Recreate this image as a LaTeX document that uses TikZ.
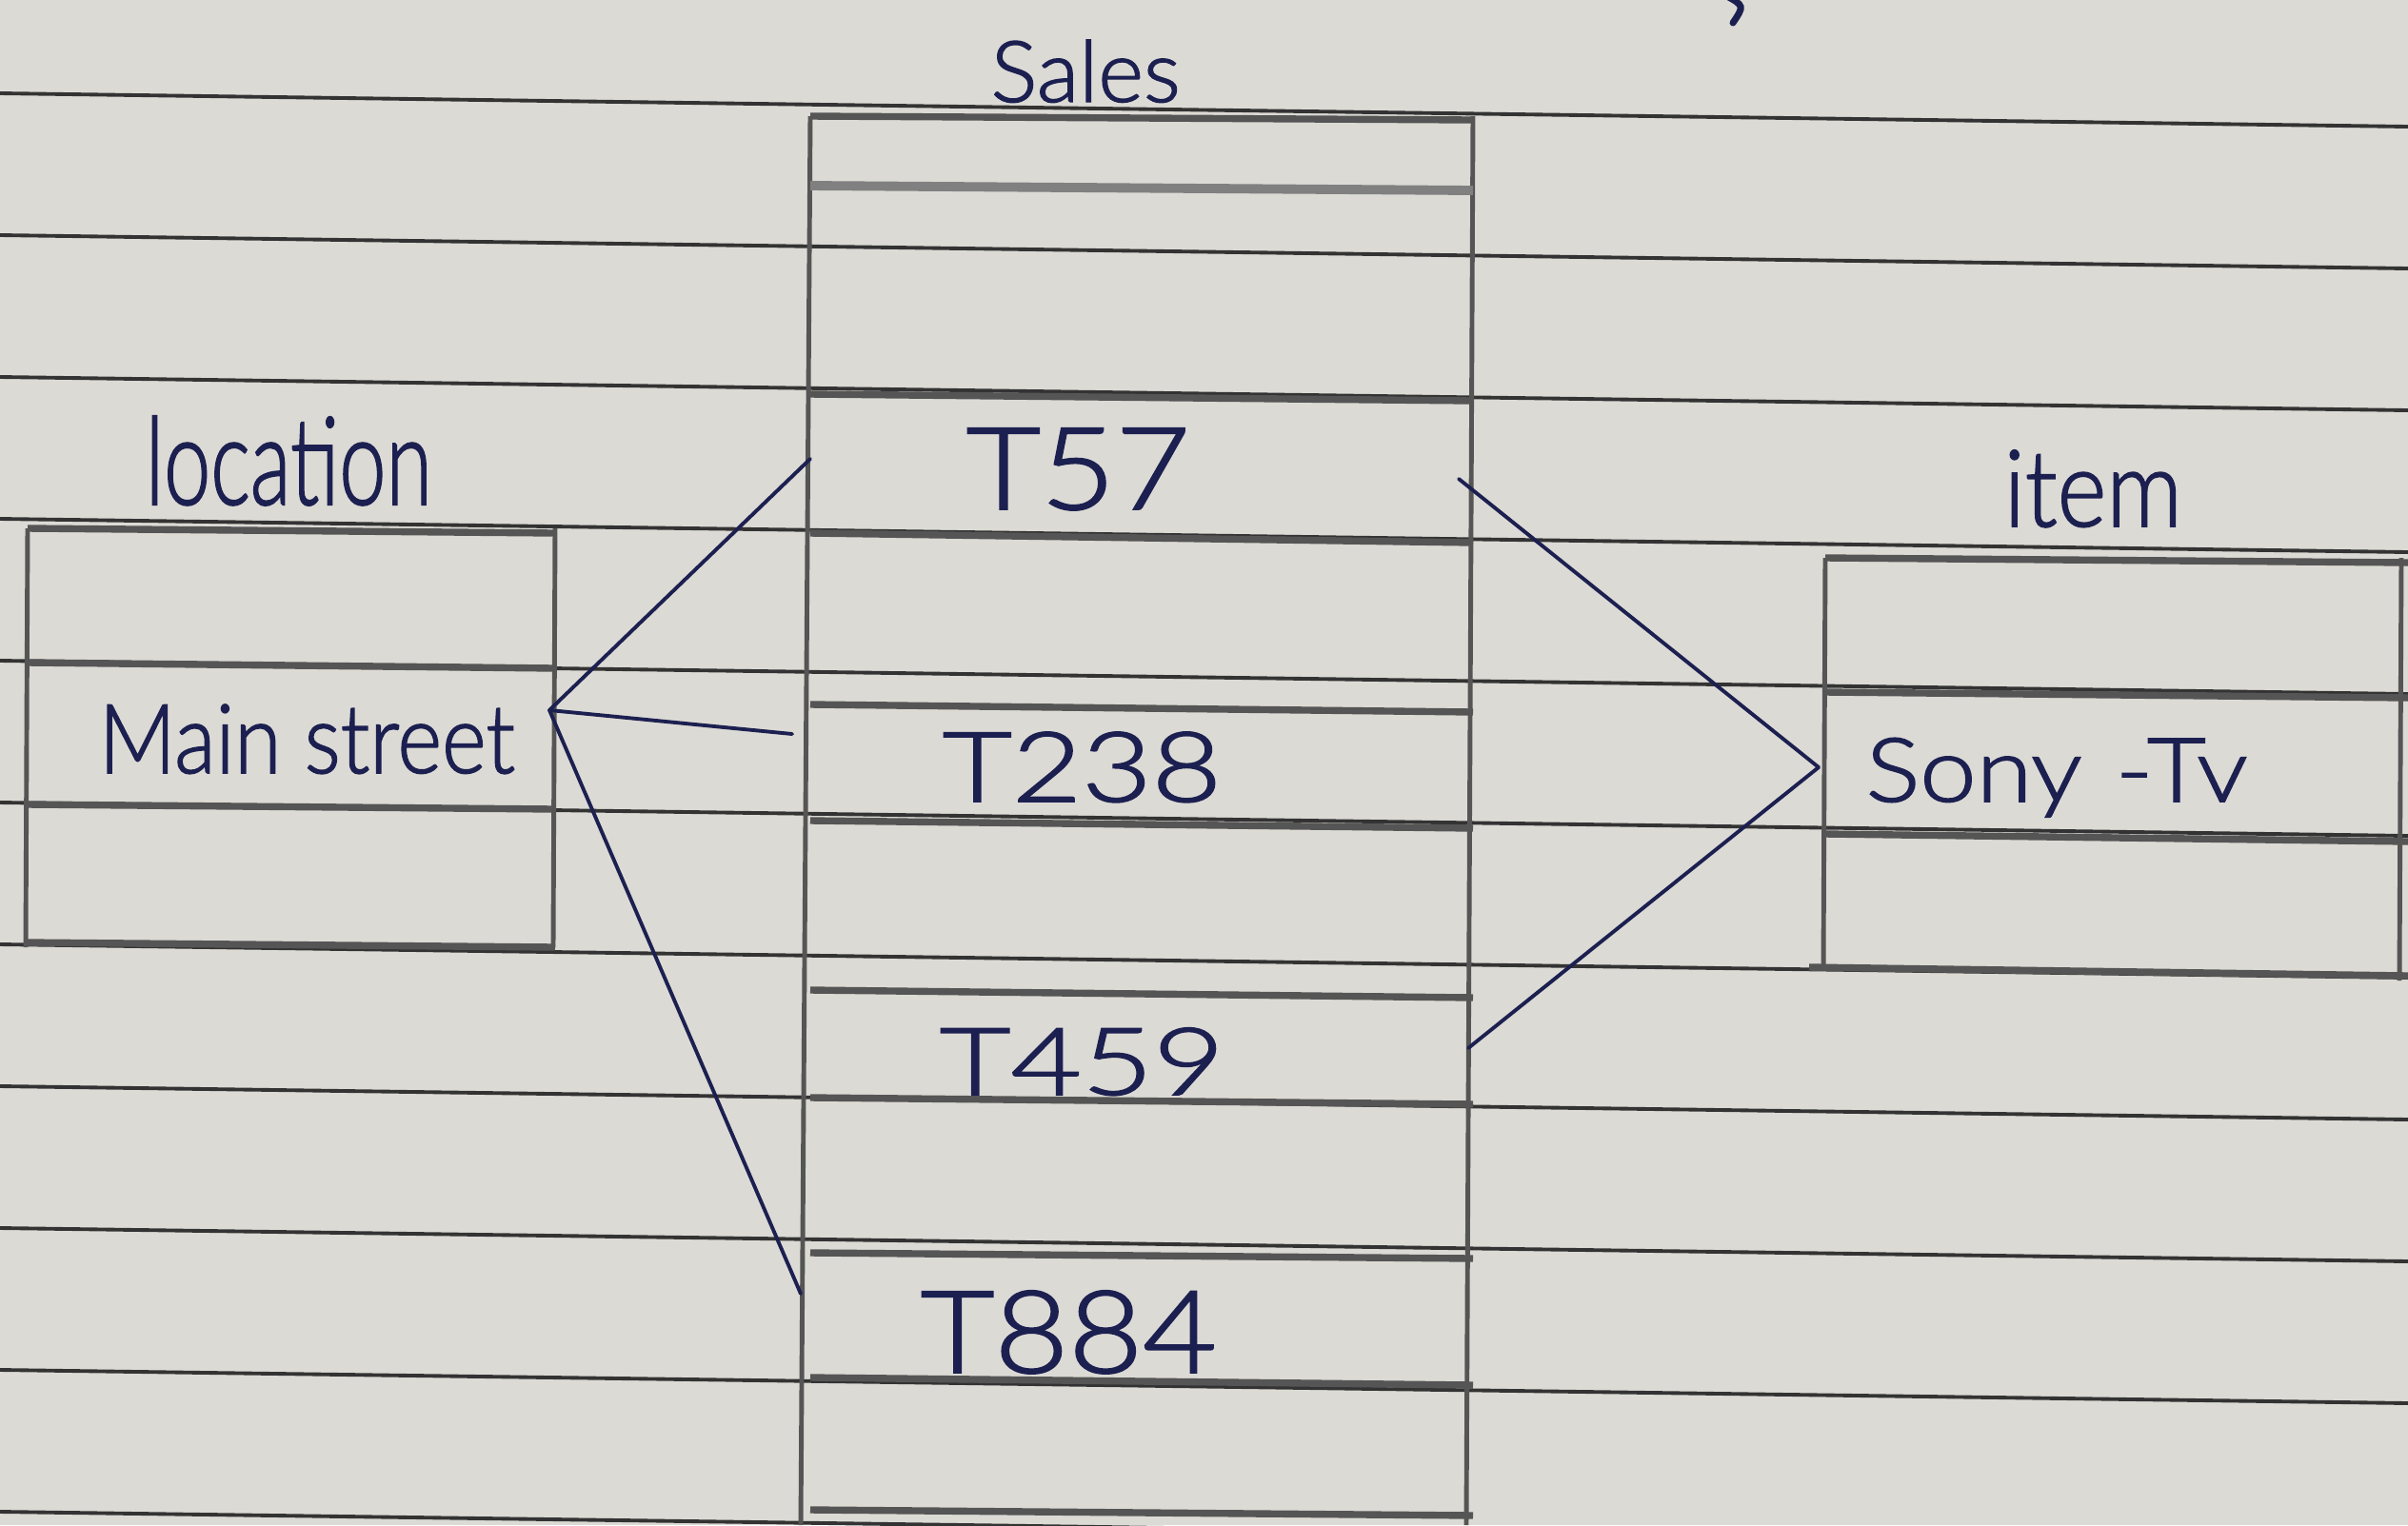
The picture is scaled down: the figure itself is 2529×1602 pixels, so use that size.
\documentclass[tikz,border=0pt]{standalone}
\usepackage{fontspec}
\setmainfont{Lato Light}[FakeBold=1.6]
\usepackage{graphicx}
\definecolor{paper}{HTML}{DCDAD5}
\definecolor{ruleC}{HTML}{333333}
\definecolor{pencilC}{HTML}{555555}
\definecolor{inkC}{HTML}{1C2050}
\tikzset{
  ruled/.style={draw=ruleC, line width=1.1pt},
  pencil/.style={draw=pencilC, line width=2.1pt},
  tedge/.style={draw=pencilC, line width=1.4pt},
  ink/.style={draw=inkC, line width=1.1pt, line cap=round},
  lbl/.style={text=inkC, inner sep=0pt, anchor=base west},
}
\begin{document}
\begin{tikzpicture}[x=0.01cm, y=-0.01cm]
\useasboundingbox (0,0) rectangle (2529,1602);
\fill[paper] (0,0) rectangle (2529,1602);
% ruled lines of the paper
\foreach \yy in {98,247,396,545,694,843,992,1141,1290,1439,1588}
  \draw[ruled] (0,\yy) -- (2529,\yy+35);
% stray ink mark at top
\draw[ink, line width=2pt] (1812,-5) .. controls (1832,6) .. (1820,24);

% Sales table
\draw[tedge] (851,122) -- (841,1602);
\draw[tedge] (1547,122) -- (1540,1602);
\draw[pencil] (851,122) -- (1547,126);
\draw[pencil, line width=2.8pt, draw=pencilC!75] (851,195) -- (1547,200);
\draw[pencil] (851,414) -- (1547,421);
\draw[pencil] (851,560) -- (1547,570);
\draw[pencil] (851,740) -- (1547,748);
\draw[pencil] (851,862) -- (1547,870);
\draw[pencil] (851,1040) -- (1547,1048);
\draw[pencil] (851,1153) -- (1547,1160);
\draw[pencil] (851,1316) -- (1547,1322);
\draw[pencil] (851,1447) -- (1547,1455);
\draw[pencil] (851,1586) -- (1547,1592);

% location table
\draw[tedge] (29,555) -- (27,995);
\draw[tedge] (583,555) -- (581,995);
\draw[pencil] (29,555) -- (583,560);
\draw[pencil] (29,696) -- (583,702);
\draw[pencil] (29,845) -- (583,850);
\draw[pencil] (27,990) -- (583,995);

% item table
\draw[tedge] (1917,586) -- (1915,1018);
\draw[tedge] (2522,586) -- (2520,1030);
\draw[pencil] (1917,586) -- (2529,591);
\draw[pencil] (1917,727) -- (2529,733);
\draw[pencil] (1917,876) -- (2529,884);
\draw[pencil] (1900,1016) -- (2529,1025);

% labels
\node[lbl] (sales) at (1040,107) {\resizebox{56.6pt}{18.5pt}{Sales}};
\node[lbl] (loc) at (152,530) {\resizebox{85.6pt}{26.5pt}{location}};
\node[lbl] (ms) at (103,812) {\resizebox{124.3pt}{20.5pt}{Main street}};
\node[lbl] (t57) at (1014,535) {\resizebox{66.9pt}{24.2pt}{T57}};
\node[lbl] (t238) at (989,842) {\resizebox{83.4pt}{20.8pt}{T238}};
\node[lbl] (t459) at (986,1150) {\resizebox{85.1pt}{20pt}{T459}};
\node[lbl] (t884) at (966,1442) {\resizebox{88.5pt}{24.5pt}{T884}};
\node[lbl] (item) at (2104,553) {\resizebox{53.2pt}{22.8pt}{item}};
\node[lbl] (sony) at (1959,842) {\resizebox{114pt}{19pt}{Sony\,\,-Tv}};

% connector ends
\coordinate (hubL) at (577,746);
\coordinate (t57L) at (851,482);
\coordinate (t238L) at (832,771);
\coordinate (t884L) at (841,1359);
\coordinate (t57R) at (1532,503);
\coordinate (t459R) at (1542,1101);
\coordinate (hubR) at (1910,806);

\draw[ink] (hubL) -- (t57L);
\draw[ink] (hubL) -- (t238L);
\draw[ink] (hubL) -- (t884L);
\draw[ink] (t57R) -- (hubR);
\draw[ink] (t459R) -- (hubR);
\end{tikzpicture}
\end{document}
